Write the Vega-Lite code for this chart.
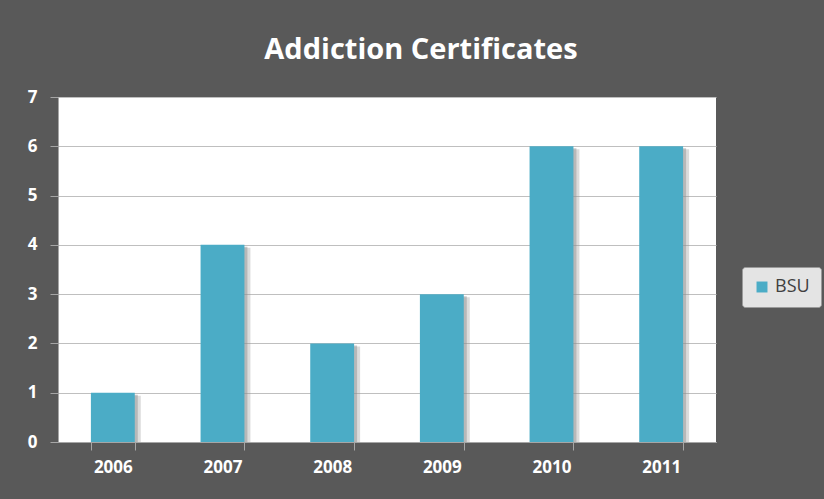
{
  "$schema": "https://vega.github.io/schema/vega-lite/v6.json",
  "autosize": {"type": "none"},
  "width": 658,
  "height": 345,
  "padding": {"left": 58, "top": 97, "right": 108, "bottom": 57},
  "background": "#595959",
  "title": {
    "text": "Addiction Certificates",
    "font": "Open Sans",
    "fontSize": 29,
    "fontWeight": "bold",
    "color": "#ffffff",
    "anchor": "middle",
    "dx": 34,
    "offset": 23
  },
  "data": {
    "values": [
      {"year": "2006", "value": 1, "series": "BSU"},
      {"year": "2007", "value": 4, "series": "BSU"},
      {"year": "2008", "value": 2, "series": "BSU"},
      {"year": "2009", "value": 3, "series": "BSU"},
      {"year": "2010", "value": 6, "series": "BSU"},
      {"year": "2011", "value": 6, "series": "BSU"}
    ]
  },
  "encoding": {
    "x": {
      "field": "year",
      "type": "nominal",
      "scale": {"paddingInner": 0.6, "paddingOuter": 0.3},
      "axis": {
        "title": null,
        "labelAngle": 0,
        "labelColor": "#ffffff",
        "labelFont": "Open Sans",
        "labelFontWeight": "bold",
        "labelFontSize": 17,
        "labelPadding": 9,
        "tickBand": "extent",
        "tickSize": 8,
        "tickColor": "#a6a6a6",
        "domainColor": "#a6a6a6",
        "grid": false
      }
    },
    "y": {
      "field": "value",
      "type": "quantitative",
      "scale": {"domain": [0, 7], "nice": false},
      "axis": {
        "title": null,
        "values": [0, 1, 2, 3, 4, 5, 6, 7],
        "labelColor": "#ffffff",
        "labelFont": "Open Sans",
        "labelFontWeight": "bold",
        "labelFontSize": 17,
        "labelPadding": 13,
        "tickSize": 8,
        "tickColor": "#a6a6a6",
        "domainColor": "#a6a6a6",
        "gridColor": "#bfbfbf",
        "gridWidth": 1
      }
    }
  },
  "layer": [
    {
      "mark": {"type": "bar", "color": "#9a9a9a", "opacity": 0.35, "xOffset": 6, "yOffset": 3, "clip": true}
    },
    {
      "mark": {"type": "bar", "color": "#8c8c8c", "opacity": 0.45, "xOffset": 3, "yOffset": 2, "clip": true}
    },
    {
      "mark": {"type": "bar"},
      "encoding": {
        "color": {
          "field": "series",
          "type": "nominal",
          "scale": {"range": ["#4BACC6"]},
          "legend": {
            "title": null,
            "orient": "none",
            "legendX": 684,
            "legendY": 170,
            "fillColor": "#e4e4e4",
            "strokeColor": "#9a9a9a",
            "cornerRadius": 3,
            "padding": 11,
            "symbolType": "square",
            "symbolSize": 120,
            "symbolStrokeWidth": 0,
            "labelColor": "#404040",
            "labelFont": "Open Sans",
            "labelFontSize": 18
          }
        }
      }
    }
  ],
  "config": {
    "view": {"fill": "#ffffff", "stroke": null}
  }
}
